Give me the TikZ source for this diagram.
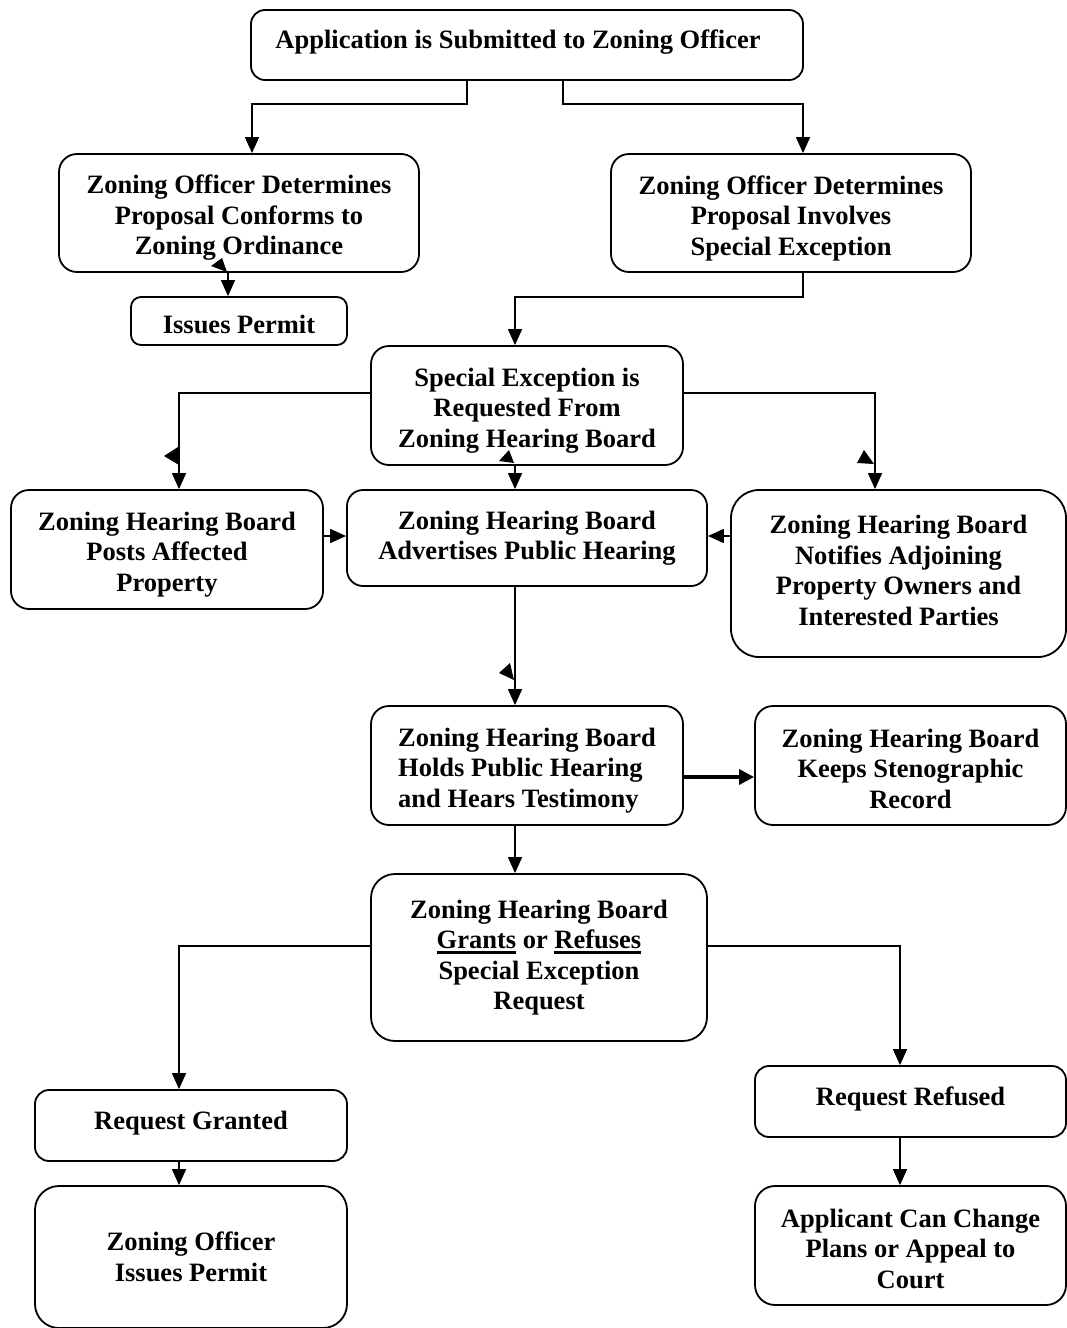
\documentclass[tikz,border=0pt]{standalone}
\usepackage{fontspec}
\setmainfont{Liberation Serif}
\usetikzlibrary{arrows.meta,calc}
\newcommand\myul[1]{\setbox0\hbox{#1}\rlap{\raisebox{-5pt}{\rule{\wd0}{2.6pt}}}\box0\relax}
\begin{document}
\begin{tikzpicture}[x=1pt,y=-1pt,
  box/.style={draw, line width=1.8pt, rounded corners=14pt, inner sep=0pt},
  txt/.style={align=center, inner sep=0pt, font=\fontsize{26.5}{30.5}\selectfont\bfseries},
  arr/.style={line width=1.6pt, -{Triangle[length=16pt,width=14pt]}},
  thickarr/.style={line width=3.4pt, -{Triangle[length=15pt,width=15pt]}},
  stray/.style={fill=black}
]
\useasboundingbox (0,0) rectangle (1067,1328);

% boxes (text placed as centred labels, shifted to match the original)
\node[box, minimum width=552pt, minimum height=70pt,
  label={[txt, xshift=-9pt, yshift=3pt]center:{Application is Submitted to Zoning Officer}}] (b1) at (527,45) {};
\node[box, minimum width=360pt, minimum height=118pt, rounded corners=18pt,
  label={[txt, yshift=-5pt]center:{Zoning Officer Determines\\Proposal Conforms to\\Zoning Ordinance}}] (b2) at (239,213) {};
\node[box, minimum width=360pt, minimum height=118pt, rounded corners=18pt,
  label={[txt, yshift=-5pt]center:{Zoning Officer Determines\\Proposal Involves\\Special Exception}}] (b3) at (791,213) {};
\node[box, minimum width=216pt, minimum height=48pt, rounded corners=10pt,
  label={[txt, yshift=-3pt]center:{Issues Permit}}] (b4) at (239,321) {};
\node[box, minimum width=312pt, minimum height=119pt, rounded corners=18pt,
  label={[txt, yshift=-5pt]center:{Special Exception is\\Requested From\\Zoning Hearing Board}}] (b5) at (527,405.5) {};
\node[box, minimum width=312pt, minimum height=119pt, rounded corners=18pt,
  label={[txt, yshift=-5pt]center:{Zoning Hearing Board\\Posts Affected\\Property}}] (b6) at (167,549.5) {};
\node[box, minimum width=360pt, minimum height=96pt, rounded corners=16pt,
  label={[txt]center:{Zoning Hearing Board\\Advertises Public Hearing}}] (b7) at (527,538) {};
\node[box, minimum width=335pt, minimum height=167pt, rounded corners=28pt,
  label={[txt, yshift=3pt]center:{Zoning Hearing Board\\Notifies Adjoining\\Property Owners and\\Interested Parties}}] (b8) at (898.5,573.5) {};
\node[box, minimum width=312pt, minimum height=119pt, rounded corners=18pt,
  label={[txt, align=left, yshift=-5pt]center:{Zoning Hearing Board\\Holds Public Hearing\\and Hears Testimony}}] (b9) at (527,765.5) {};
\node[box, minimum width=311pt, minimum height=119pt, rounded corners=18pt,
  label={[txt, yshift=-3pt]center:{Zoning Hearing Board\\Keeps Stenographic\\Record}}] (b10) at (910.5,765.5) {};
\node[box, minimum width=336pt, minimum height=167pt, rounded corners=24pt,
  label={[txt]center:{Zoning Hearing Board\\\myul{Grants} or \myul{Refuses}\\Special Exception\\Request}}] (b11) at (539,957.5) {};
\node[box, minimum width=312pt, minimum height=71pt, rounded corners=14pt,
  label={[txt, yshift=2pt]center:{Request Granted}}] (b12) at (191,1125.5) {};
\node[box, minimum width=312pt, minimum height=142pt, rounded corners=24pt,
  label={[txt]center:{Zoning Officer\\Issues Permit}}] (b13) at (191,1257) {};
\node[box, minimum width=311pt, minimum height=71pt, rounded corners=14pt,
  label={[txt, yshift=3pt]center:{Request Refused}}] (b14) at (910.5,1101.5) {};
\node[box, minimum width=311pt, minimum height=119pt, rounded corners=20pt,
  label={[txt, yshift=-3pt]center:{Applicant Can Change\\Plans or Appeal to\\Court}}] (b15) at (910.5,1245.5) {};

% junction coordinates
\coordinate (j1) at (467,104);
\coordinate (j2) at (252,104);
\coordinate (j3) at (563,104);
\coordinate (j4) at (803,104);
\coordinate (j5) at (228,0);
\coordinate (j6) at (803,297);
\coordinate (j7) at (515,297);
\coordinate (j8) at (179,393);
\coordinate (j9) at (875,393);
\coordinate (j10) at (515,0);
\coordinate (j11) at (0,536);
\coordinate (j12) at (0,777);
\coordinate (j13) at (179,946);
\coordinate (j14) at (900,946);

% connectors
\draw[arr] (b1.south -| j1) -- (j1) -- (j2) -- (j2 |- b2.north);
\draw[arr] (b1.south -| j3) -- (j3) -- (j4) -- (j4 |- b3.north);
\draw[arr] (b2.south -| j5) -- (b4.north -| j5);
\draw[arr] (b3.south -| j6) -- (j6) -- (j7) -- (j7 |- b5.north);
\draw[arr] (b5.west |- j8) -- (j8) -- (j8 |- b6.north);
\draw[arr] (b5.east |- j9) -- (j9) -- (j9 |- b8.north);
\draw[arr] (b5.south -| j10) -- (b7.north -| j10);
\draw[arr] (b6.east |- j11) -- (b7.west |- j11);
\draw[arr] (b8.west |- j11) -- (b7.east |- j11);
\draw[arr] (b7.south -| j10) -- (b9.north -| j10);
\draw[thickarr] (b9.east |- j12) -- (b10.west |- j12);
\draw[arr] (b9.south -| j10) -- (b11.north -| j10);
\draw[arr] (b11.west |- j13) -- (j13) -- (j13 |- b12.north);
\draw[arr] (b11.east |- j14) -- (j14) -- (j14 |- b14.north);
\draw[arr] (b12.south -| j13) -- (b13.north -| j13);
\draw[arr] (b14.south -| j14) -- (b15.north -| j14);

% stray arrowheads
\fill[stray] (211,266) -- (222,258) -- (227,272) -- cycle;
\fill[stray] (164,456) -- (178,447) -- (179,465) -- cycle;
\fill[stray] (499,461) -- (509,450) -- (514,463) -- cycle;
\fill[stray] (857,463) -- (864,450) -- (874,464) -- cycle;
\fill[stray] (499,673) -- (510,663) -- (514,680) -- cycle;
\end{tikzpicture}
\end{document}
